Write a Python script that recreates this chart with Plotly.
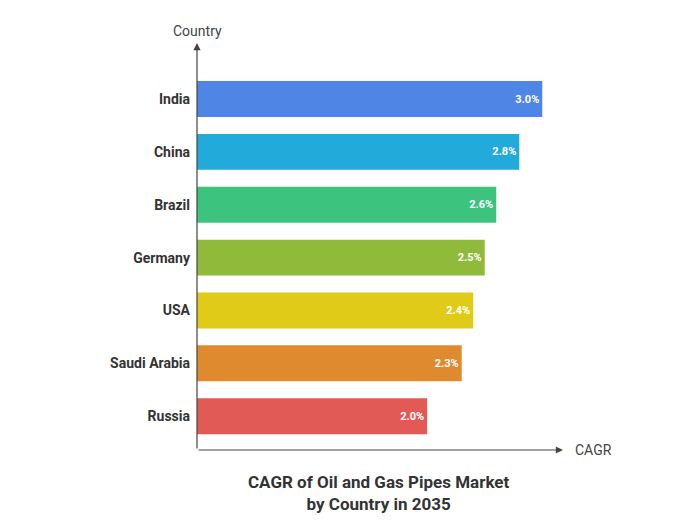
import plotly.graph_objects as go

countries = ["Russia", "Saudi Arabia", "USA", "Germany", "Brazil", "China", "India"]
cagr = [2.0, 2.3, 2.4, 2.5, 2.6, 2.8, 3.0]
colors = ["#e25a55", "#e08a30", "#e0cc18", "#8fba3a", "#3cc47f", "#22aadb", "#4f86e6"]
labels = [f"{v:.1f}%" for v in cagr]

pos = list(range(len(countries)))
fig = go.Figure(go.Bar(
    x=cagr, y=pos, orientation="h", width=0.68,
    marker=dict(color=colors, line=dict(width=0)),
    text=labels, textposition="inside", insidetextanchor="end",
    textfont=dict(color="white", size=11, family="Roboto", weight="bold"),
    cliponaxis=False,
))
XMAX = 3.18
fig.update_layout(
    width=700, height=524, plot_bgcolor="white", paper_bgcolor="white",
    margin=dict(l=189, r=145, t=35, b=82, autoexpand=False), showlegend=False,
    xaxis=dict(range=[0, XMAX], visible=False, automargin=False),
    yaxis=dict(range=[-0.64, 7.06], tickvals=pos, ticktext=countries, automargin=False,
               showgrid=False, zeroline=False, showline=False, ticks="",
               ticklabelstandoff=6,
               tickfont=dict(size=14, family="Roboto", color="#333", weight="bold")),
    font=dict(family="Roboto"),
)
fig.add_annotation(x=XMAX, y=-0.64, ax=0, ay=-0.64, xref="x", yref="y", axref="x", ayref="y",
                   showarrow=True, arrowhead=2, arrowsize=1.2, arrowwidth=1.2, arrowcolor="#444", text="")
fig.add_annotation(x=0, y=7.06, ax=0, ay=-0.64, xref="x", yref="y", axref="x", ayref="y",
                   showarrow=True, arrowhead=2, arrowsize=1.2, arrowwidth=1.2, arrowcolor="#444", text="")
fig.add_annotation(x=XMAX, y=-0.64, xref="x", yref="y", text="CAGR", showarrow=False,
                   xanchor="left", xshift=10, font=dict(size=14, color="#444"))
fig.add_annotation(x=0, y=7.06, xref="x", yref="y", text="Country", showarrow=False,
                   yanchor="bottom", yshift=2, font=dict(size=14, color="#444"))
fig.add_annotation(x=(370-189)/366, y=-0.05, xref="paper", yref="paper", yanchor="top",
                   text="CAGR of Oil and Gas Pipes Market<br>by Country in 2035", showarrow=False,
                   font=dict(size=17, color="#333", weight="bold"))
fig.write_html("out.html")
